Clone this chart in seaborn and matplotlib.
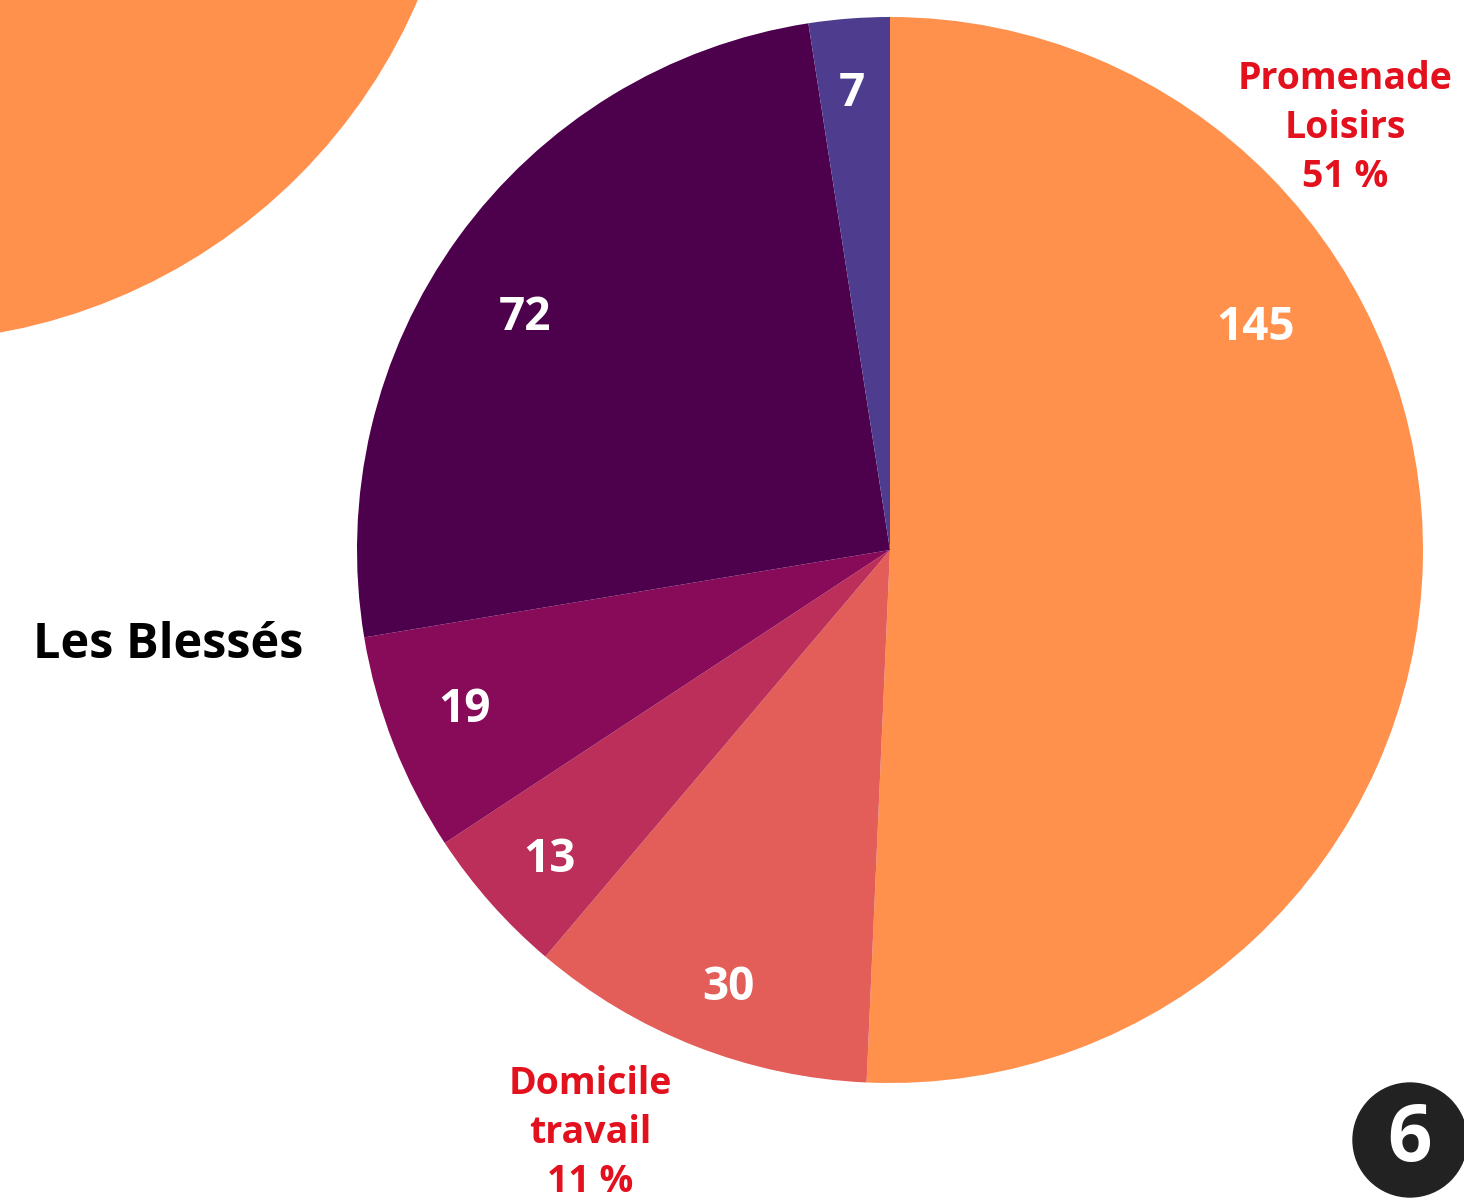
import matplotlib.pyplot as plt
import seaborn as sns
from matplotlib.patches import Circle

# données
categories = ['Promenade Loisirs', 'Domicile travail', 'Cat 3', 'Cat 4', 'Cat 5', 'Cat 6']
valeurs = [145, 30, 13, 19, 72, 7]
couleurs = ['#FF914D', '#E35D59', '#BB2F5A', '#870B58', '#4D004C', '#4E3D8F']
# pourcentages affichés (tels que sur le graphique d'origine)
pourcentages = {'Promenade\nLoisirs': 51, 'Domicile\ntravail': 11}
# positions des étiquettes (pixels, origine en haut à gauche)
pos_etiquettes = [(1256, 327), (728, 987), (549, 860), (465, 710), (525, 318), (852, 93)]
pos_pourcentages = [(1345, 128), (590, 1133)]

sns.set_theme(style="white")
plt.rcParams['font.family'] = ['Open Sans', 'DejaVu Sans']

W, H = 1464, 1200
fig = plt.figure(figsize=(W / 100, H / 100), dpi=100)
ax = fig.add_axes([0, 0, 1, 1])

# cercle décoratif en haut à gauche
ax.add_patch(Circle((-101, H + 223), 564, color='#FF914D', zorder=1))

# camembert
ax.pie(valeurs, colors=couleurs, startangle=90, counterclock=False,
       center=(890, H - 550), radius=533, frame=True,
       wedgeprops=dict(linewidth=0, antialiased=True))
ax.set_xlim(0, W)
ax.set_ylim(0, H)
ax.set_aspect('equal')
ax.axis('off')

for v, (x, y) in zip(valeurs, pos_etiquettes):
    ax.text(x, H - y, str(v), color='white', fontsize=33, fontweight='bold',
            ha='center', va='center', zorder=5)

for (nom, pct), (x, y) in zip(pourcentages.items(), pos_pourcentages):
    ax.text(x, H - y, f"{nom}\n{pct} %", color='#E3101E',
            fontsize=27, fontweight='bold', ha='center', va='center',
            linespacing=1.38, zorder=5)

ax.text(168, H - 645, "Les Blessés", color='black', fontsize=35,
        fontweight='bold', ha='center', va='center', zorder=5)

# pastille numéro de page
ax.add_patch(Circle((1410, H - 1140), 57, color='#222222', zorder=4))
ax.text(1410, H - 1140, "6", color='white', fontsize=56, fontweight='bold',
        ha='center', va='center', zorder=5)

plt.savefig('out.png', dpi=100)
plt.close()
